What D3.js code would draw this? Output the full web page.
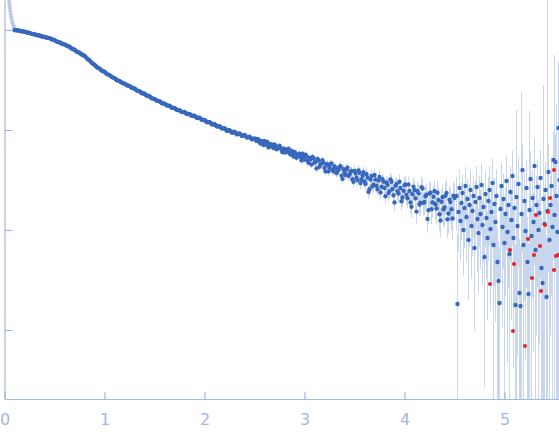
<!DOCTYPE html>
<html>
<head>
<meta charset="utf-8">
<script src="https://cdn.jsdelivr.net/npm/d3@7"></script>
<style>
  body { margin: 0; background: #fff; }
  svg { display: block; }
</style>
</head>
<body>
<div id="chart"></div>
<script>
// q (1/nm) and log10(I)
// points left out of the fit (faint, lowest q)
var excluded = [[0.045,0.30],[0.048,0.27],[0.051,0.24],[0.055,0.22],[0.058,0.19],[0.062,0.16],
	[0.067,0.13],[0.073,0.10],[0.080,0.07],[0.088,0.045],[0.097,0.025]];

// low q: errors smaller than the markers
var lowQ = [[0.100,0.000],[0.125,-0.003],[0.150,-0.007],[0.175,-0.014],[0.200,-0.016],[0.225,-0.025],
	[0.250,-0.029],[0.275,-0.039],[0.300,-0.043],[0.325,-0.052],[0.350,-0.055],[0.375,-0.065],
	[0.400,-0.069],[0.425,-0.078],[0.450,-0.081],[0.475,-0.094],[0.500,-0.101],[0.525,-0.117],
	[0.550,-0.123],[0.575,-0.138],[0.600,-0.144],[0.625,-0.158],[0.650,-0.168],[0.675,-0.187],
	[0.700,-0.198],[0.725,-0.218],[0.750,-0.228],[0.775,-0.248],[0.800,-0.258],[0.825,-0.285],
	[0.850,-0.303],[0.875,-0.331],[0.900,-0.348],[0.925,-0.373],[0.950,-0.386],[0.975,-0.408],
	[1.000,-0.418],[1.025,-0.441],[1.050,-0.451],[1.075,-0.471],[1.100,-0.481],[1.125,-0.503],
	[1.150,-0.510],[1.175,-0.528],[1.200,-0.536],[1.225,-0.553],[1.250,-0.560],[1.275,-0.579],
	[1.300,-0.585],[1.325,-0.606],[1.350,-0.612],[1.375,-0.632],[1.400,-0.637],[1.425,-0.657],
	[1.450,-0.663],[1.475,-0.684],[1.500,-0.689],[1.525,-0.709],[1.550,-0.712],[1.575,-0.733],
	[1.600,-0.736],[1.625,-0.755],[1.650,-0.758],[1.675,-0.779],[1.700,-0.780],[1.725,-0.801],
	[1.750,-0.802],[1.775,-0.821],[1.800,-0.820],[1.825,-0.841],[1.850,-0.840],[1.875,-0.859],
	[1.900,-0.858],[1.925,-0.880],[1.950,-0.877],[1.975,-0.900],[2.000,-0.900],[2.025,-0.923],
	[2.050,-0.920],[2.075,-0.944],[2.100,-0.940],[2.125,-0.966],[2.150,-0.962],[2.175,-0.986],
	[2.200,-0.982],[2.225,-1.009],[2.250,-1.003],[2.275,-1.028],[2.300,-1.018],[2.325,-1.044],
	[2.350,-1.034],[2.375,-1.060],[2.400,-1.050],[2.425,-1.076],[2.450,-1.067],[2.475,-1.094],
	[2.500,-1.085]];

// low q, the points in between
var lowQHalf = [[0.1125,-0.002],[0.1375,-0.005],[0.1625,-0.010],[0.1875,-0.015],[0.2125,-0.020],
	[0.2375,-0.027],[0.2625,-0.034],[0.2875,-0.041],[0.3125,-0.047],[0.3375,-0.053],[0.3625,-0.060],
	[0.3875,-0.067],[0.4125,-0.073],[0.4375,-0.079],[0.4625,-0.087],[0.4875,-0.098],[0.5125,-0.109],
	[0.5375,-0.120],[0.5625,-0.130],[0.5875,-0.141],[0.6125,-0.151],[0.6375,-0.163],[0.6625,-0.178],
	[0.6875,-0.193],[0.7125,-0.208],[0.7375,-0.223],[0.7625,-0.238],[0.7875,-0.253],[0.8125,-0.271],
	[0.8375,-0.294],[0.8625,-0.317],[0.8875,-0.339],[0.9125,-0.360],[0.9375,-0.379],[0.9625,-0.397],
	[0.9875,-0.413],[1.0125,-0.429],[1.0375,-0.446],[1.0625,-0.461],[1.0875,-0.476],[1.1125,-0.492],
	[1.1375,-0.506],[1.1625,-0.519],[1.1875,-0.532],[1.2125,-0.544],[1.2375,-0.557],[1.2625,-0.569],
	[1.2875,-0.582],[1.3125,-0.595],[1.3375,-0.609],[1.3625,-0.622],[1.3875,-0.634],[1.4125,-0.647],
	[1.4375,-0.660],[1.4625,-0.674],[1.4875,-0.686],[1.5125,-0.698],[1.5375,-0.710],[1.5625,-0.722],
	[1.5875,-0.734],[1.6125,-0.745],[1.6375,-0.756],[1.6625,-0.768],[1.6875,-0.779],[1.7125,-0.790],
	[1.7375,-0.801],[1.7625,-0.811],[1.7875,-0.821],[1.8125,-0.830],[1.8375,-0.840],[1.8625,-0.849],
	[1.8875,-0.858],[1.9125,-0.868],[1.9375,-0.878],[1.9625,-0.888],[1.9875,-0.899],[2.0125,-0.910],
	[2.0375,-0.921],[2.0625,-0.931],[2.0875,-0.942],[2.1125,-0.952],[2.1375,-0.963],[2.1625,-0.973],
	[2.1875,-0.984],[2.2125,-0.995],[2.2375,-1.005],[2.2625,-1.014],[2.2875,-1.022],[2.3125,-1.030],
	[2.3375,-1.038],[2.3625,-1.046],[2.3875,-1.054],[2.4125,-1.062],[2.4375,-1.071],[2.4625,-1.080],
	[2.4875,-1.089]];

// mid q: [q, log10 I, relative error]
var midQ = [[2.52,-1.110,.04],[2.54,-1.098,.04],[2.56,-1.135,.04],[2.58,-1.123,.04],[2.60,-1.110,.04],
	[2.62,-1.147,.05],[2.64,-1.174,.05],[2.66,-1.141,.05],[2.68,-1.168,.05],[2.70,-1.145,.05],
	[2.72,-1.192,.05],[2.74,-1.179,.05],[2.76,-1.176,.05],[2.78,-1.223,.06],[2.80,-1.190,.06],
	[2.82,-1.218,.06],[2.84,-1.186,.06],[2.86,-1.244,.06],[2.88,-1.232,.06],[2.90,-1.220,.06],
	[2.92,-1.277,.07],[2.94,-1.244,.07],[2.96,-1.271,.07],[2.98,-1.238,.07],[3.00,-1.295,.07],
	[3.02,-1.261,.08],[3.04,-1.327,.08],[3.06,-1.293,.08],[3.08,-1.269,.08],[3.10,-1.325,.08],
	[3.12,-1.384,.09],[3.14,-1.303,.09],[3.16,-1.342,.09],[3.18,-1.301,.09],[3.20,-1.380,.09],
	[3.22,-1.347,.09],[3.24,-1.414,.10],[3.26,-1.341,.10],[3.28,-1.398,.10],[3.30,-1.365,.10],
	[3.32,-1.431,.10],[3.34,-1.397,.11],[3.36,-1.363,.11],[3.38,-1.489,.11],[3.40,-1.425,.11],
	[3.42,-1.392,.11],[3.44,-1.459,.12],[3.46,-1.416,.12],[3.48,-1.493,.12],[3.50,-1.410,.12],
	[3.52,-1.477,.13],[3.54,-1.404,.13],[3.56,-1.531,.13],[3.58,-1.458,.13],[3.60,-1.515,.14],
	[3.62,-1.442,.14],[3.64,-1.619,.14],[3.66,-1.496,.14],[3.68,-1.563,.15],[3.70,-1.450,.15],
	[3.72,-1.558,.15],[3.74,-1.506,.15],[3.76,-1.624,.16],[3.78,-1.492,.16],[3.80,-1.580,.16],
	[3.82,-1.525,.17],[3.84,-1.630,.17],[3.86,-1.495,.17],[3.88,-1.590,.18],[3.90,-1.725,.18],
	[3.92,-1.540,.18],[3.94,-1.635,.19],[3.96,-1.580,.19],[3.98,-1.675,.20],[4.00,-1.550,.20],
	[4.02,-1.648,.21],[4.04,-1.546,.21],[4.06,-1.724,.22],[4.08,-1.642,.22],[4.10,-1.600,.23],
	[4.12,-1.816,.24],[4.14,-1.632,.24],[4.16,-1.728,.25],[4.18,-1.584,.25],[4.20,-1.720,.26],
	[4.22,-1.646,.27],[4.24,-1.802,.28],[4.26,-1.628,.28],[4.28,-1.724,.29],[4.30,-1.610,.30],
	[4.32,-1.785,.31],[4.34,-1.700,.32],[4.36,-1.905,.33],[4.38,-1.670,.34],[4.40,-1.775,.35],
	[4.42,-1.630,.36],[4.44,-1.835,.37],[4.46,-1.720,.38],[4.48,-1.885,.39],[4.50,-1.680,.40]];

// mid q, the points in between
var midQHalf = [[2.53,-1.089,.04],[2.55,-1.121,.04],[2.57,-1.109,.04],[2.59,-1.151,.04],[2.61,-1.133,.05],
	[2.63,-1.120,.05],[2.65,-1.162,.05],[2.67,-1.144,.05],[2.69,-1.181,.05],[2.71,-1.158,.05],
	[2.73,-1.180,.05],[2.75,-1.157,.05],[2.77,-1.199,.06],[2.79,-1.186,.06],[2.81,-1.224,.06],
	[2.83,-1.197,.06],[2.85,-1.230,.06],[2.87,-1.208,.06],[2.89,-1.266,.06],[2.91,-1.233,.07],
	[2.93,-1.260,.07],[2.95,-1.237,.07],[2.97,-1.304,.07],[2.99,-1.272,.07],[3.01,-1.248,.08],
	[3.03,-1.304,.08],[3.05,-1.280,.08],[3.07,-1.346,.08],[3.09,-1.282,.08],[3.11,-1.320,.09],
	[3.13,-1.289,.09],[3.15,-1.368,.09],[3.17,-1.337,.09],[3.19,-1.326,.09],[3.21,-1.414,.09],
	[3.23,-1.341,.10],[3.25,-1.378,.10],[3.27,-1.335,.10],[3.29,-1.412,.10],[3.31,-1.378,.10],
	[3.33,-1.414,.11],[3.35,-1.370,.11],[3.37,-1.456,.11],[3.39,-1.392,.11],[3.41,-1.449,.11],
	[3.43,-1.376,.12],[3.45,-1.443,.12],[3.47,-1.410,.12],[3.49,-1.517,.12],[3.51,-1.434,.13],
	[3.53,-1.501,.13],[3.55,-1.428,.13],[3.57,-1.495,.13],[3.59,-1.422,.14],[3.61,-1.539,.14],
	[3.63,-1.476,.14],[3.65,-1.593,.14],[3.67,-1.460,.15],[3.69,-1.547,.15],[3.71,-1.494,.15],
	[3.73,-1.592,.15],[3.75,-1.470,.16],[3.77,-1.568,.16],[3.79,-1.516,.16],[3.81,-1.663,.17],
	[3.83,-1.548,.17],[3.85,-1.613,.17],[3.87,-1.518,.18],[3.89,-1.653,.18],[3.91,-1.558,.18],
	[3.93,-1.613,.19],[3.95,-1.518,.19],[3.97,-1.713,.20],[3.99,-1.608,.20],[4.01,-1.544,.21],
	[4.03,-1.682,.21],[4.05,-1.610,.22],[4.07,-1.768,.22],[4.09,-1.566,.23],[4.11,-1.683,.23],
	[4.13,-1.609,.24],[4.15,-1.745,.24],[4.17,-1.571,.25],[4.19,-1.727,.26],[4.21,-1.663,.26],
	[4.23,-1.889,.27],[4.25,-1.635,.28],[4.27,-1.791,.29],[4.29,-1.667,.29],[4.31,-1.743,.30],
	[4.33,-1.628,.31],[4.35,-1.843,.32],[4.37,-1.718,.33],[4.39,-1.793,.34],[4.41,-1.658,.35],
	[4.43,-1.893,.36],[4.45,-1.698,.37],[4.47,-1.793,.38],[4.49,-1.658,.39]];

// high q: [q, log10 I, relative error]
var highQ = [[4.52,-1.66,.55],[4.53,-2.74,4],[4.54,-1.82,.6],[4.55,-1.58,.55],[4.56,-1.91,.6],
	[4.57,-1.73,.58],[4.58,-1.63,.55],[4.59,-2.00,.65],[4.60,-1.78,.6],[4.61,-1.56,.55],
	[4.62,-1.87,.65],[4.63,-1.69,.6],[4.64,-2.10,.75],[4.65,-1.75,.62],[4.66,-1.60,.58],
	[4.67,-1.96,.7],[4.68,-1.81,.65],[4.69,-1.66,.62],[4.70,-2.18,.85],[4.71,-1.72,.65],
	[4.72,-1.57,.62],[4.73,-1.89,.7],[4.74,-2.03,.75],[4.75,-1.68,.68],[4.76,-1.84,.72],
	[4.77,-1.55,.65],[4.78,-1.95,.75],[4.79,-1.77,.72],[4.80,-2.27,.95],[4.81,-1.64,.7],
	[4.82,-1.88,.75],[4.83,-2.08,.85],[4.84,-1.71,.75],[4.85,-1.60,.72],[4.86,-1.99,.85],
	[4.87,-1.82,.8],[4.88,-1.53,.75],[4.89,-2.15,1.0],[4.90,-1.74,.85],[4.91,-1.92,.9],
	[4.92,-1.66,.85],[4.93,-2.32,1.2],[4.94,-2.51,1.5],[4.95,-2.73,2.5],[4.96,-1.79,.8],
	[4.97,-1.56,.75],[4.98,-1.97,.9],[4.99,-1.69,.8],[5.00,-2.13,1.1],[5.01,-1.84,.85],
	[5.02,-1.51,.8],[5.03,-2.02,.95],[5.04,-1.75,.85],[5.05,-2.24,1.3],[5.06,-1.62,.8],
	[5.07,-1.90,.9],[5.08,-1.46,.8],[5.09,-2.08,.95],[5.10,-1.78,.9],[5.11,-2.75,3],
	[5.12,-1.67,6.4],[5.13,-1.96,.95],[5.14,-1.54,.85],[5.15,-2.63,2.5],[5.16,-2.76,3],
	[5.17,-1.84,16],[5.18,-1.40,.85],[5.19,-2.15,1.1],[5.20,-1.71,.9],[5.21,-2.01,.95],
	[5.22,-1.58,.9],[5.23,-2.32,1.8],[5.24,-2.64,2.2],[5.25,-1.80,8.8],[5.26,-1.49,.9],
	[5.27,-2.06,1.0],[5.28,-1.68,.9],[5.29,-1.92,.95],[5.30,-1.36,.9],[5.31,-2.20,1.2],
	[5.32,-1.75,.95],[5.33,-1.57,.9],[5.34,-2.00,1.0],[5.35,-1.83,.95],[5.36,-1.48,.9],
	[5.37,-2.38,2.2],[5.38,-2.53,2.5],[5.39,-1.69,12.8],[5.40,-1.94,1.0],[5.41,-1.60,.92],
	[5.42,-2.67,3],[5.43,-1.81,130],[5.44,-1.42,.9],[5.45,-2.10,1.1],[5.46,-1.75,.95],
	[5.47,-1.56,.92],[5.48,-1.97,1.0],[5.49,-1.30,.9],[5.50,-1.85,39],[5.51,-1.32,.92],
	[5.52,-1.66,7.3],[5.53,-2.02,1.1],[5.54,-0.98,3.6],[5.55,-1.50,.95]];

// outliers marked red
var redPts = [[4.855,-2.54],[5.055,-2.20],[5.095,-2.34],[5.085,-3.01],[5.205,-3.16],[5.235,-2.09],
	[5.275,-2.48],[5.295,-2.25],[5.315,-1.85],[5.355,-2.16],[5.365,-2.61],[5.405,-1.95],
	[5.435,-1.82],[5.455,-1.68],[5.495,-1.40],[5.495,-2.40],[5.515,-2.26],[5.535,-2.25]];

var xTicks = [0, 1, 2, 3, 4, 5];
var yTicks = [1, 0.1, 0.01, 0.001];

var W = 559, H = 437;
var axisColor = "#a3b8e2";

var svg = d3.select("#chart").append("svg")
	.attr("width", W)
	.attr("height", H);

var x = d3.scaleLinear()
	.domain([0, 5.545])
	.range([4.5, 559]);

var y = d3.scaleLog()
	.domain([Math.pow(10, -3.69), Math.pow(10, 0.30)])
	.range([399, 0]);

var I = function(v) { return Math.pow(10, v); };

svg.append("defs").append("clipPath")
	.attr("id", "plot")
	.append("rect")
	.attr("x", 4.5).attr("y", 0)
	.attr("width", W - 4.5).attr("height", 399);

var plot = svg.append("g").attr("clip-path", "url(#plot)");

// error bars
var withErr = midQ.concat(midQHalf, highQ);
plot.selectAll("line.err")
	.data(withErr)
	.enter().append("line")
	.attr("class", "err")
	.attr("x1", function(d) { return x(d[0]); })
	.attr("x2", function(d) { return x(d[0]); })
	.attr("y1", function(d) { return y(I(d[1]) * (1 + d[2])); })
	.attr("y2", function(d) {
		var lo = I(d[1]) * (1 - d[2]);
		return lo > y.domain()[0] ? y(lo) : 400;
	})
	.attr("stroke", "#c9d7ee")
	.attr("stroke-width", 1);

plot.selectAll("circle.ex")
	.data(excluded)
	.enter().append("circle")
	.attr("class", "ex")
	.attr("r", 2.1)
	.attr("cx", function(d) { return x(d[0]); })
	.attr("cy", function(d) { return y(I(d[1])); })
	.attr("fill", "#b9cae8");

plot.selectAll("circle.pt")
	.data(lowQ.concat(lowQHalf, midQ, midQHalf, highQ))
	.enter().append("circle")
	.attr("class", "pt")
	.attr("r", 2.2)
	.attr("cx", function(d) { return x(d[0]); })
	.attr("cy", function(d) { return y(I(d[1])); })
	.attr("fill", "#3868bd");

plot.selectAll("circle.red")
	.data(redPts)
	.enter().append("circle")
	.attr("class", "red")
	.attr("r", 2.1)
	.attr("cx", function(d) { return x(d[0]); })
	.attr("cy", function(d) { return y(I(d[1])); })
	.attr("fill", "#e8262a");

// axes
var xAxis = svg.append("g")
	.attr("transform", "translate(0,399)")
	.call(d3.axisBottom(x)
		.tickValues(xTicks)
		.tickFormat(d3.format("d"))
		.tickSizeInner(-7)
		.tickSizeOuter(0)
		.tickPadding(14.5));

var yAxis = svg.append("g")
	.attr("transform", "translate(4.5,0)")
	.call(d3.axisLeft(y)
		.tickValues(yTicks)
		.tickFormat("")
		.tickSizeInner(-8)
		.tickSizeOuter(0));

svg.selectAll(".domain, .tick line")
	.attr("stroke", axisColor)
	.attr("stroke-width", 1.2);

xAxis.selectAll("text")
	.attr("fill", axisColor)
	.style("font-family", "'DejaVu Sans', sans-serif")
	.style("font-size", "16px");
</script>
</body>
</html>
